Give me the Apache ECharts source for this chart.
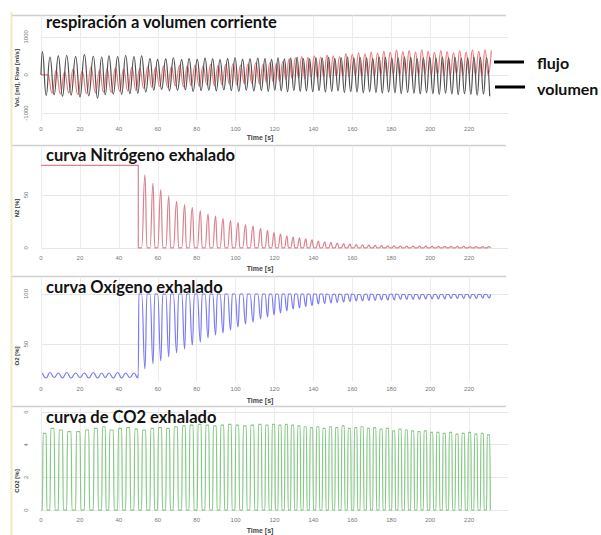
<!DOCTYPE html>
<html><head><meta charset="utf-8">
<script src="https://cdn.jsdelivr.net/npm/echarts@6/dist/echarts.min.js"></script>
<style>html,body{margin:0;padding:0;background:#fff}#c{width:601px;height:535px}</style>
</head><body><div id="c"></div>
<script>
// ---- data ----
const breathTimes = [0.7,4.6,8.9,13.2,17.8,22.3,26.9,31.2,34.9,39.4,43.5,47.8,
 51.7,56.0,59.9,64.1,68.0,72.3,76.1,80.3,84.3,88.2,92.0,95.9,99.7,103.6,107.4,111.4,115.1,
 118.5,121.8,125.1,128.3,131.6,134.8,138.0,141.3,144.5,147.8,151.0,154.3,157.5,160.8,164.0,
 167.3,170.5,173.8,177.0,180.3,183.5,186.8,190.0,193.3,196.5,199.8,203.0,206.3,209.5,212.8,
 216.0,219.3,222.5,225.8,229.0];
const washoutTime = 50.0;
const volPeak = [610,470,500,510,480,530,490,470,500,480,510,480,
 500,430,410,420,450,400,430,410,440,420,400,430,450,410,420,440,430,410,450,420,440,460,430,420,
 450,440,460,430,450,470,440,460,450,430,470,460,440,450,470,460,430,450,460,440,470,450,460,440,
 450,470,460,450];
const volTrough = [-540,-520,-560,-530,-580,-550,-610,-520,-500,-510,-490,-480,
 -450,-400,-380,-420,-400,-390,-430,-410,-400,-420,-390,-410,-430,-400,-420,-410,-430,-400,-420,-440,
 -410,-430,-420,-440,-410,-450,-430,-420,-460,-440,-450,-470,-440,-460,-480,-450,-470,-490,-460,-480,
 -500,-470,-490,-510,-480,-500,-520,-490,-510,-530,-500,-560];
const flowPeak = [0,120,80,150,100,200,130,160,180,150,200,170,
 220,200,240,210,250,230,260,240,280,250,270,300,260,290,310,280,320,300,350,
 420,450,480,460,500,470,520,500,480,560,540,580,550,600,570,
 620,590,650,610,640,600,660,620,590,640,610,580,630,600,650,620,660,640];
const flowTrough = [-450,-480,-500,-470,-520,-490,-470,-450,-460,-430,-420,-410,
 -350,-320,-300,-330,-290,-310,-280,-300,-260,-280,-250,-240,-260,-230,-220,-240,-200,-180,-160,
 -120,-100,-80,-100,-60,-80,-50,-70,-40,-30,-50,-20,-40,-10,-30,
 0,-20,20,-10,10,-30,0,20,-10,10,-20,0,30,-10,10,0,-20,0];
const n2PreLevel = 78;
const n2Peak = [69,61,55,49,44,41,38,35,32,30,28,26,24,22,20.5,18.5,16.5,14.5,13,11.5,
 10.5,9.5,8.5,7.5,6.5,5.8,5.2,4.6,4.1,3.6,3.2,2.9,2.6,2.4,2.2,2.0,1.9,1.8,1.7,1.7,
 1.6,1.6,1.5,1.5,1.5,1.4,1.4,1.4,1.3,1.3,1.3,1.3];
const o2PrePeak = [21,21.5,21,21.5,21,21,21.5,21,21,21.5,21,21];
const o2PreTrough = [16,16.5,16,16,16.5,16,16,16.5,16,16,16.5,16];
const o2Peak = [100,100,100,100,100,100,100,100,100,100,100,100,100,100,100,100,100,100,100,100,
 100,100,100,100,100,100,99.5,100,99.5,100,99.5,99.5,100,99.5,99.5,99.5,100,99.5,99.5,99.5,
 99.5,99.5,99.5,99.5,99.5,99.5,99.5,99.5,99.5,99.5,99.5,99.5];
const o2Trough = [25,30,33,37,41,45,49,52,56,59,61,64,67,70,72,75,77,79,81,83,
 85,86,87.5,88.5,90,90.5,91,91.5,92,92.5,93,93,93.5,93.5,94,94,94,94.5,94.5,94.5,
 94.5,95,95,95,95,95.5,95.5,95.5,95.5,95.5,96,96];
const co2Peak = [4.7,5.0,4.9,4.8,4.8,4.9,5.0,5.1,4.9,5.0,5.05,4.95,
 4.9,5.0,5.05,5.0,5.1,5.15,5.2,5.25,
 5.2,5.15,5.2,5.25,5.2,5.15,5.2,5.25,5.2,5.25,5.2,
 5.25,5.2,5.15,5.1,5.05,5.1,5.0,5.1,5.05,5.15,5.0,5.05,
 5.1,5.0,5.05,4.95,5.0,4.85,4.95,4.9,4.85,4.8,4.85,4.75,
 4.75,4.7,4.75,4.65,4.7,4.75,4.65,4.7,4.6];
const timeTicks = [0,20,40,60,80,100,120,140,160,180,200,220];
const volTicks = [-1000,0,1000];
const n2Ticks = [0,50];
const o2Ticks = [50,100];
const co2Ticks = [0,2,4,6];
const titles = ['respiración a volumen corriente','curva Nitrógeno exhalado','curva Oxígeno exhalado','curva de CO2 exhalado'];
const yNames = ['Vol. [ml], Flow [ml/s]','N2 [%]','O2 [%]','CO2 [%]'];
const xName = 'Time [s]';

// ---- build point lists from the read values ----
const nPre = 12;
function per(i){ return i < breathTimes.length-1 ? breathTimes[i+1]-breathTimes[i] : breathTimes[i]-breathTimes[i-1]; }
const volData=[], flowData=[[0,0],[1.5,0]], n2Data=[[0,n2PreLevel],[washoutTime,n2PreLevel],[washoutTime,0]],
      o2Data=[], co2Data=[[0,0]];
breathTimes.forEach((t,i)=>{
  const P = Math.min(per(i), 4.5);
  volData.push([t, volPeak[i]], [t+0.5*P, volTrough[i]]);
  if (i>0) flowData.push([t+0.25*P, flowTrough[i]]);
  flowData.push([t+0.75*P, flowPeak[i]]);
  co2Data.push([t,0],[t+0.1*P,co2Peak[i]],[t+0.5*P,co2Peak[i]],[t+0.6*P,0]);
  if (i<nPre){
    o2Data.push([t,o2PrePeak[i]],[t+0.5*P,o2PreTrough[i]]);
  } else {
    const j=i-nPre;
    if (j===0){ o2Data.push([washoutTime,o2PrePeak[nPre-1]],[washoutTime+0.3,o2Peak[0]]); }
    n2Data.push([t,0],[t+0.4*P,n2Peak[j]],[t+0.65*P,0]);
    o2Data.push([t,o2Peak[j]],[t+0.4*P,o2Trough[j]],[t+0.65*P,o2Peak[j]]);
  }
});
volData.unshift([0,0]);

// ---- layout ----
const L=41, W=467;
const panels=[
 {top:15.5,bottom:120.6,min:-1200,max:1560,ticks:volTicks,nameY:78,xnameY:137,titleY:22},
 {top:145.5,bottom:249.5,min:-1.5,max:96.7,ticks:n2Ticks,nameY:208,xnameY:268,titleY:155},
 {top:276.5,bottom:381,min:13,max:117.5,ticks:o2Ticks,nameY:356,xnameY:400,titleY:287},
 {top:406.5,bottom:511.5,min:-0.09,max:6.34,ticks:co2Ticks,nameY:481,xnameY:530,titleY:417}
];
const grid=[],xAxis=[],yAxis=[],graphic=[];
graphic.push({type:'line',shape:{x1:11.5,y1:12,x2:11.5,y2:535},style:{stroke:'#f1ecc0',lineWidth:2},silent:true});
panels.forEach((p,k)=>{
  grid.push({left:L,top:p.top,width:W,height:p.bottom-p.top});
  xAxis.push({type:'value',gridIndex:k,min:0,max:240,
    axisLine:{show:false},axisTick:{show:false,customValues:timeTicks},
    axisLabel:{customValues:timeTicks,fontSize:6,color:'#777',margin:5,fontFamily:'Liberation Sans',formatter:v=>String(v)},
    splitLine:{show:true,lineStyle:{color:'#ececec',width:1}}});
  yAxis.push({type:'value',gridIndex:k,min:p.min,max:p.max,
    axisLine:{show:false},axisTick:{show:false,customValues:p.ticks},
    axisLabel:{customValues:p.ticks,fontSize:6,color:'#777',rotate:90,margin:12,fontFamily:'Liberation Sans',formatter:v=>String(v)},
    splitLine:{show:true,lineStyle:{color:'#e6e6e6',width:1}}});
  graphic.push({type:'line',shape:{x1:12,y1:p.top,x2:506,y2:p.top},style:{stroke:'#cfcfcf',lineWidth:1.5},silent:true});
  graphic.push({type:'text',x:17,y:p.nameY,rotation:Math.PI/2,silent:true,
    style:{text:yNames[k],fill:'#333',font:'bold 6px "Liberation Sans"',textAlign:'center',textVerticalAlign:'middle'}});
  graphic.push({type:'text',x:260,y:p.xnameY,silent:true,
    style:{text:xName,fill:'#444',font:'bold 7px "Liberation Sans"',textAlign:'center',textVerticalAlign:'middle'}});
  graphic.push({type:'text',x:46,y:p.titleY,silent:true,z:100,
    style:{text:titles[k],fill:'#121212',font:'bold 16.5px Lato',textAlign:'left',textVerticalAlign:'middle'}});
});
graphic.push({type:'line',shape:{x1:494,y1:62,x2:524,y2:62},style:{stroke:'#000',lineWidth:3},silent:true});
graphic.push({type:'line',shape:{x1:495,y1:87,x2:525,y2:87},style:{stroke:'#000',lineWidth:3},silent:true});
graphic.push({type:'text',x:537,y:62,silent:true,style:{text:'flujo',fill:'#111',font:'bold 16px Lato',textAlign:'left',textVerticalAlign:'middle'}});
graphic.push({type:'text',x:537,y:88,silent:true,style:{text:'volumen',fill:'#111',font:'bold 16px Lato',textAlign:'left',textVerticalAlign:'middle'}});

function ser(name,data,k,color,smooth){
  return {name,type:'line',data,xAxisIndex:k,yAxisIndex:k,showSymbol:false,symbol:'none',
    smooth:smooth,smoothMonotone:'x',lineStyle:{color,width:1.2},itemStyle:{color},animation:false,silent:true};
}
const chart = echarts.init(document.getElementById('c'),null,{renderer:'svg'});
chart.setOption({
  animation:false,
  grid,xAxis,yAxis,
  series:[
    ser('flujo',flowData,0,'#f07878',0.5),
    ser('volumen',volData,0,'#505050',0.5),
    ser('N2',n2Data,1,'#d9838f',0.5),
    ser('O2',o2Data,2,'#7c7cf2',0.5),
    ser('CO2',co2Data,3,'#86c986',0.5)
  ],
  graphic
});
</script></body></html>
